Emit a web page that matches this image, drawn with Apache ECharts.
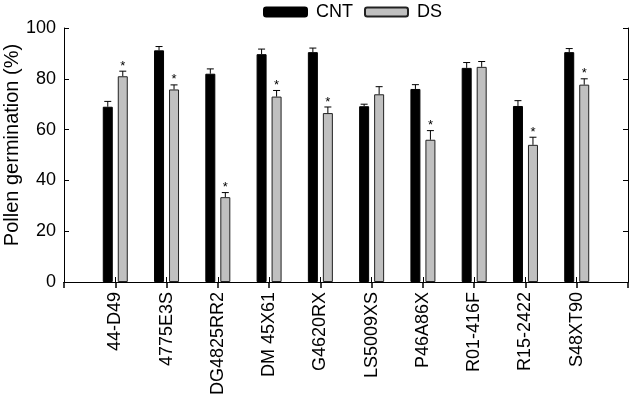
<!DOCTYPE html>
<html>
<head>
<meta charset="utf-8">
<script src="https://cdn.jsdelivr.net/npm/echarts@6/dist/echarts.min.js"></script>
<style>
  html, body { margin: 0; padding: 0; background: #fff; }
  #chart { width: 629px; height: 399px; }
</style>
</head>
<body>
<div id="chart"></div>
<script>
const categories = ['44-D49', '4775E3S', 'DG4825RR2', 'DM 45X61', 'G4620RX', 'LS5009XS', 'P46A86X', 'R01-416F', 'R15-2422', 'S48XT90']
const cntValues = [69.0, 91.2, 82.0, 89.7, 90.5, 69.2, 76.0, 84.3, 69.3, 90.5]
const cntErrors = [2.1, 1.5, 1.9, 2.0, 1.6, 0.8, 1.7, 2.1, 2.1, 1.4]
const dsValues = [81.0, 75.8, 33.4, 73.0, 66.5, 73.9, 56.0, 84.7, 54.0, 77.7]
const dsErrors = [2.0, 1.8, 1.8, 2.4, 2.4, 3.0, 3.6, 2.1, 3.0, 2.3]
const dsSignificant = [1, 1, 1, 1, 1, 0, 1, 0, 1, 1]
const yTicks = [0, 20, 40, 60, 80, 100]

const font = 'Liberation Sans, Arial, sans-serif'
const barWidth = 10
const barGapPx = 5
const barOffset = (barWidth + barGapPx) / 2

// empty slots on both ends so the categories sit at 1..10 of an 11-wide frame
const axisData = [''].concat(categories, [''])
const pad = (arr) => [null].concat(arr, [null])

function errorData(values, errors, marks) {
  return values.map((v, i) => [i + 1, v, errors[i], marks ? marks[i] : 0])
}

function errorBarItem(offset) {
  return function (params, api) {
    const idx = api.value(0)
    const val = api.value(1)
    const err = api.value(2)
    const base = api.coord([idx, val])
    const top = api.coord([idx, val + err])
    const x = base[0] + offset
    const children = [
      { type: 'line', shape: { x1: x, y1: base[1], x2: x, y2: top[1] }, style: { stroke: '#000', lineWidth: 1 } },
      { type: 'line', shape: { x1: x - 3.5, y1: top[1], x2: x + 3.5, y2: top[1] }, style: { stroke: '#000', lineWidth: 1 } },
    ]
    if (api.value(3)) {
      children.push({
        type: 'text',
        x: x,
        y: top[1] - 5,
        style: { text: '*', fontSize: 13, fontFamily: font, fill: '#000', align: 'center', verticalAlign: 'middle' },
      })
    }
    return { type: 'group', children }
  }
}

const chart = echarts.init(document.getElementById('chart'))
chart.setOption({
  animation: false,
  textStyle: { fontFamily: font },
  grid: { left: 64, right: 1, top: 28, bottom: 117, containLabel: false, outerBoundsMode: 'none' },
  legend: {
    top: -2,
    left: 258,
    itemWidth: 43,
    itemHeight: 9,
    itemGap: 11,
    data: ['CNT', 'DS'],
    textStyle: { fontSize: 18, color: '#000', fontFamily: font, padding: [0, 0, 0, 4] },
  },
  xAxis: [
    {
      type: 'category',
      data: axisData,
      boundaryGap: false,
      axisLine: { lineStyle: { color: '#000', width: 1 } },
      axisTick: { inside: true, length: 5, interval: 0, lineStyle: { color: '#000' } },
      axisLabel: { rotate: 90, interval: 0, margin: 10, fontSize: 18, color: '#000', fontFamily: font },
      splitLine: { show: false },
    },
    {
      type: 'category',
      position: 'top',
      data: axisData,
      boundaryGap: false,
      axisLine: { lineStyle: { color: '#000', width: 1 } },
      axisTick: { inside: true, length: 6, interval: 0, lineStyle: { color: '#000', width: 1.5 } },
      axisLabel: { show: false },
    },
  ],
  yAxis: [
    {
      type: 'value',
      min: yTicks[0],
      max: yTicks[yTicks.length - 1],
      interval: 20,
      name: 'Pollen germination (%)',
      nameLocation: 'middle',
      nameGap: 42,
      nameMoveOverlap: false,
      nameTextStyle: { fontSize: 20, color: '#000', fontFamily: font, padding: [0, 0, 0, 20] },
      axisLine: { show: true, lineStyle: { color: '#000', width: 1 } },
      axisTick: { show: true, inside: true, length: 5, lineStyle: { color: '#000' } },
      axisLabel: { margin: 8, fontSize: 18, color: '#000', fontFamily: font },
      splitLine: { show: false },
    },
    {
      type: 'value',
      position: 'right',
      min: yTicks[0],
      max: yTicks[yTicks.length - 1],
      interval: 20,
      axisLine: { show: true, lineStyle: { color: '#000', width: 1 } },
      axisTick: { show: true, inside: true, length: 5, lineStyle: { color: '#000' } },
      axisLabel: { show: false },
      splitLine: { show: false },
    },
  ],
  series: [
    {
      name: 'CNT',
      type: 'bar',
      data: pad(cntValues),
      barWidth: barWidth,
      barGap: (barGapPx / barWidth * 100) + '%',
      itemStyle: { color: '#000', borderColor: '#000', borderWidth: 1 },
      z: 2,
    },
    {
      name: 'DS',
      type: 'bar',
      data: pad(dsValues),
      barWidth: barWidth,
      itemStyle: { color: '#c0c0c0', borderColor: '#222', borderWidth: 1 },
      z: 2,
    },
    {
      name: 'CNT err',
      type: 'custom',
      data: errorData(cntValues, cntErrors),
      encode: { x: 0, y: 1 },
      renderItem: errorBarItem(-barOffset),
      z: 3,
    },
    {
      name: 'DS err',
      type: 'custom',
      data: errorData(dsValues, dsErrors, dsSignificant),
      encode: { x: 0, y: 1 },
      renderItem: errorBarItem(barOffset),
      z: 3,
    },
  ],
})
</script>
</body>
</html>
